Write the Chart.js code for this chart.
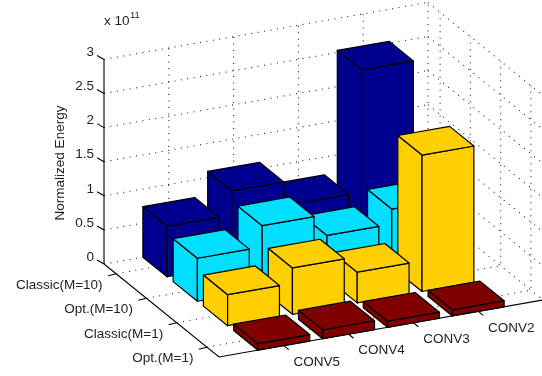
<!DOCTYPE html>
<html>
<head>
<meta charset="utf-8">
<style>html,body{margin:0;padding:0;background:#fff}canvas{display:block}</style>
<script src="https://cdn.jsdelivr.net/npm/chart.js@4/dist/chart.umd.min.js"></script>
</head>
<body>
<canvas id="c" width="542" height="376"></canvas>
<script>
// ---- data (values in units of 1e11) ----
const categories = ['CONV5', 'CONV4', 'CONV3', 'CONV2'];
const rowLabels = ['Opt.(M=1)', 'Classic(M=1)', 'Opt.(M=10)', 'Classic(M=10)'];
const optM1 = [0.095, 0.13, 0.09, 0.09];
const classicM1 = [0.455, 0.68, 0.45, 2.0];
const optM10 = [0.63, 0.94, 0.63, 0.85];
const classicM10 = [0.74, 1.09, 0.74, 2.53];
const zTicks = [0, 0.5, 1, 1.5, 2, 2.5, 3];
const zTickLabels = ['0', '0.5', '1', '1.5', '2', '2.5', '3'];
const zLabel = 'Normalized Energy';

const rowValues = [optM1, classicM1, optM10, classicM10];
const rowColors = ['#800000', '#FFCF00', '#00DFFF', '#00008F'];

// ---- view of the 3-D axes (oblique projection) ----
const view = { ox: 219, oy: 357, ux: 64.8, uy: -11.4, vx: -30.26, vy: -24.47, zy: -68.2 };
const uMax = 5, vMax = 3.8, zMax = 3, halfW = 0.4;
const project = (u, v, z) => ({
  x: view.ox + u * view.ux + v * view.vx,
  y: view.oy + u * view.uy + v * view.vy + z * view.zy
});
const uOf = i => i + 1;           // column centre
const vOf = j => j + 0.4;         // row centre

const datasets = [];
const line = (pts, color, dash, width) => datasets.push({
  data: pts.map(p => project(p[0], p[1], p[2])),
  borderColor: color, borderDash: dash || [], borderWidth: width || 1.1,
  backgroundColor: 'transparent', pointRadius: 0, tension: 0, showLine: true,
  fill: false, clip: false
});
const face = (pts, color) => datasets.push({
  data: pts.concat([pts[0]]).map(p => project(p[0], p[1], p[2])),
  faceColor: color, borderColor: '#000', borderWidth: 1.2, borderJoinStyle: 'round',
  backgroundColor: color, pointRadius: 0, tension: 0, showLine: true, fill: false, clip: false
});

// grid: dotted walls and floor
const DOT = [1, 5.5], DOTC = '#222222';
zTicks.forEach(z => {
  line([[0, vMax, z], [uMax, vMax, z]], DOTC, DOT);
  line([[uMax, vMax, z], [uMax, 0, z]], DOTC, DOT);
});
categories.forEach((_, i) => {
  line([[uOf(i), 0, 0], [uOf(i), vMax, 0], [uOf(i), vMax, zMax]], DOTC, DOT);
});
rowLabels.forEach((_, j) => {
  line([[0, vOf(j), 0], [uMax, vOf(j), 0], [uMax, vOf(j), zMax]], DOTC, DOT);
});
line([[uMax, vMax, 0], [uMax, vMax, zMax]], DOTC, DOT);

// axes and tick marks
line([[0, vMax, 0], [0, vMax, zMax]], '#000');
line([[0, vMax, 0], [0, 0, 0], [uMax, 0, 0]], '#000');
const tickOffset = (p, dx, dy) => ({ x: p.x + dx, y: p.y + dy });
const pxLine = (a, b, color) => datasets.push({
  data: [a, b], borderColor: color, borderWidth: 1.1, pointRadius: 0, showLine: true,
  backgroundColor: 'transparent', fill: false, clip: false, tension: 0
});
zTicks.forEach(z => { const p = project(0, vMax, z); pxLine(p, tickOffset(p, -7, -4), '#000'); });
rowLabels.forEach((_, j) => { const p = project(0, vOf(j), 0); pxLine(p, tickOffset(p, -8, 2), '#000'); });
categories.forEach((_, i) => { const p = project(uOf(i), 0, 0); pxLine(p, tickOffset(p, 5, 4), '#000'); });

// bars, far to near
for (let j = rowValues.length - 1; j >= 0; j--) {
  for (let i = categories.length - 1; i >= 0; i--) {
    const h = rowValues[j][i];
    const u0 = uOf(i) - halfW, u1 = uOf(i) + halfW;
    const v0 = vOf(j) - halfW, v1 = vOf(j) + halfW;
    const c = rowColors[j];
    face([[u0, v1, 0], [u0, v0, 0], [u0, v0, h], [u0, v1, h]], c);
    face([[u0, v0, 0], [u1, v0, 0], [u1, v0, h], [u0, v0, h]], c);
    face([[u0, v0, h], [u1, v0, h], [u1, v1, h], [u0, v1, h]], c);
  }
}
// first pushed is painted first
datasets.forEach((d, k) => { d.order = datasets.length - k; });

const FONT = '13.5px "Liberation Sans", Arial, sans-serif';
const TXT = '#222';
const facePlugin = {
  id: 'facePlugin',
  beforeDatasetDraw(chart, args) {
    const ds = chart.data.datasets[args.index];
    if (!ds.faceColor) return;
    const pts = args.meta.data, ctx = chart.ctx;
    ctx.save();
    ctx.beginPath();
    pts.forEach((p, i) => i ? ctx.lineTo(p.x, p.y) : ctx.moveTo(p.x, p.y));
    ctx.closePath();
    ctx.fillStyle = ds.faceColor;
    ctx.fill();
    ctx.restore();
  }
};
const textPlugin = {
  id: 'textPlugin',
  afterDraw(chart) {
    const ctx = chart.ctx, sx = chart.scales.x, sy = chart.scales.y;
    const at = p => ({ x: sx.getPixelForValue(p.x), y: sy.getPixelForValue(p.y) });
    ctx.save();
    ctx.fillStyle = TXT;
    ctx.font = FONT;
    ctx.textBaseline = 'middle';
    ctx.textAlign = 'right';
    zTicks.forEach((z, k) => {
      const p = at(project(0, vMax, z));
      ctx.fillText(zTickLabels[k], p.x - 10, p.y - 7);
    });
    rowLabels.forEach((t, j) => {
      const p = at(project(0, vOf(j), 0));
      ctx.fillText(t, p.x - 13.5, p.y + 11.5);
    });
    ctx.textAlign = 'center';
    categories.forEach((t, i) => {
      const p = at(project(uOf(i), 0, 0));
      ctx.fillText(t, p.x + 33, p.y + 16.5);
    });
    ctx.textAlign = 'left';
    ctx.fillText('x 10', 104, 21);
    ctx.font = '9.5px "Liberation Sans", Arial, sans-serif';
    ctx.fillText('11', 130, 15);
    ctx.font = FONT;
    ctx.translate(60.5, 163);
    ctx.rotate(-Math.PI / 2);
    ctx.textAlign = 'center';
    ctx.fillText(zLabel, 0, 0);
    ctx.restore();
  }
};

new Chart(document.getElementById('c'), {
  type: 'scatter',
  data: { datasets },
  plugins: [facePlugin, textPlugin],
  options: {
    responsive: false,
    animation: false,
    layout: { padding: 0 },
    plugins: { legend: { display: false }, tooltip: { enabled: false }, title: { display: false } },
    scales: {
      x: { type: 'linear', min: 0, max: 542, display: false },
      y: { type: 'linear', min: 0, max: 376, reverse: true, display: false }
    }
  }
});
</script>
</body>
</html>
